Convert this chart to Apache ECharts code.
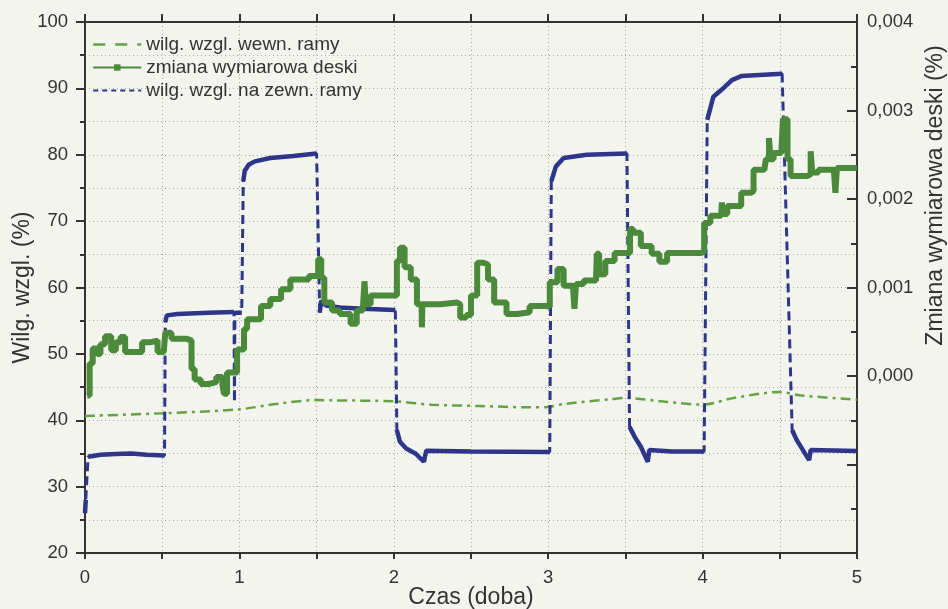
<!DOCTYPE html>
<html>
<head>
<meta charset="utf-8">
<script src="https://cdn.jsdelivr.net/npm/echarts@6/dist/echarts.min.js"></script>
<style>
  html, body { margin: 0; padding: 0; background: #f4f4ef; }
  #chart { width: 948px; height: 609px; }
</style>
</head>
<body>
<div id="chart"></div>
<script>
// czas (doba) i wilgotność wewnątrz ramy (%)
const tWewn = [0, 0.5, 1.0, 1.25, 1.5, 1.6, 2.0, 2.24, 2.55, 2.88, 3.0, 3.1, 3.4, 3.5, 3.77, 4.0, 4.2, 4.5, 4.63, 5.0]
const wewn = [40.65, 41.05, 41.65, 42.5, 43.05, 43.0, 42.85, 42.35, 42.15, 41.95, 42.0, 42.45, 43.15, 43.35, 42.75, 42.35, 43.35, 44.25, 43.75, 43.1]

// zmiana wymiarowa deski (%) - prawa oś
const tDeska = [0.015, 0.03, 0.05, 0.08, 0.10, 0.13, 0.17, 0.2, 0.23, 0.26, 0.33, 0.37, 0.42, 0.47, 0.51,
  0.52, 0.56, 0.66, 0.69, 0.71, 0.75, 0.8, 0.85, 0.89, 0.9, 0.92, 0.96, 0.985,
  1.03, 1.05, 1.1, 1.14, 1.2, 1.27, 1.33, 1.45, 1.51, 1.53, 1.55, 1.6, 1.65, 1.72, 1.76, 1.80, 1.81, 1.82, 1.85,
  2.0, 2.02, 2.04, 2.07, 2.11, 2.15, 2.18, 2.182, 2.185, 2.3, 2.41, 2.43, 2.47, 2.5, 2.54, 2.58, 2.61, 2.65,
  2.73, 2.8, 2.88, 2.99, 3.01, 3.06, 3.1, 3.16, 3.17, 3.18, 3.23, 3.31, 3.315, 3.33, 3.37, 3.43, 3.5,
  3.53, 3.55, 3.6, 3.67, 3.72, 3.77, 3.99, 4.01, 4.05, 4.12, 4.125, 4.13, 4.16, 4.23, 4.25, 4.31, 4.33, 4.4,
  4.41, 4.43, 4.44, 4.46, 4.51, 4.52, 4.55, 4.57, 4.68, 4.70, 4.71, 4.75, 4.85, 4.86, 4.87, 4.91, 5.0]
const deska = [-0.00022, 0.00014, 0.00031, 0.00025, 0.00036, 0.00045, 0.00029, 0.00038, 0.00044, 0.00027, 0.00027, 0.00038, 0.0004, 0.00027, 0.00029,
  0.00049, 0.00042, 0.0004, 0.00008, -0.00004, -0.00009, -0.00007, -0.00001, -0.0001, -0.0002, 0.00004, 0.00004, 0.0003,
  0.00053, 0.00064, 0.00064, 0.00079, 0.00087, 0.00098, 0.00109, 0.00113, 0.00132, 0.00111, 0.00083, 0.00074, 0.0007, 0.00059, 0.00074, 0.00077, 0.00107, 0.00081, 0.00091,
  0.00091, 0.0013, 0.00145, 0.00123, 0.00109, 0.00081, 0.00081, 0.00055, 0.00081, 0.00083, 0.00081, 0.00066, 0.00069, 0.00091, 0.00128, 0.00126, 0.00109, 0.00083,
  0.0007, 0.00072, 0.00079, 0.00078, 0.00106, 0.00121, 0.00102, 0.00102, 0.00076, 0.00104, 0.00108, 0.00111, 0.00138, 0.00115, 0.0013, 0.00139, 0.00139,
  0.00166, 0.00162, 0.00147, 0.00138, 0.00129, 0.00139, 0.0014, 0.00173, 0.00181, 0.00181, 0.00196, 0.00183, 0.00192, 0.00192, 0.00207, 0.00209, 0.00233, 0.00233,
  0.00245, 0.00269, 0.00245, 0.00252, 0.00254, 0.0029, 0.00245, 0.00226, 0.00228, 0.00254, 0.0023, 0.00233, 0.00233, 0.00207, 0.00235, 0.00235, 0.00235]

// wilgotność na zewnątrz ramy (%)
const tZewn = [0, 0.005, 0.02, 0.1, 0.2, 0.3, 0.4, 0.515, 0.52, 0.53, 0.6, 0.8, 0.965, 0.968, 0.971, 1.015,
  1.025, 1.035, 1.06, 1.1, 1.2, 1.35, 1.5, 1.52, 1.53, 1.56, 1.65, 1.8, 2.01,
  2.02, 2.04, 2.08, 2.14, 2.195, 2.21, 2.5, 3.01, 3.02, 3.05, 3.1, 3.25, 3.51,
  3.527, 3.56, 3.6, 3.645, 3.655, 3.8, 4.01, 4.03, 4.07, 4.145, 4.19, 4.25, 4.515,
  4.58, 4.61, 4.69, 4.70, 5.0]
const zewn = [26, 28, 34.5, 34.8, 34.9, 35.0, 34.8, 34.7, 54.8, 55.8, 56.0, 56.2, 56.3, 42.7, 56.2, 56.2,
  76, 77.6, 78.5, 79.0, 79.5, 79.8, 80.2, 56.2, 58, 57.3, 57.0, 56.8, 56.6,
  38.5, 36.75, 35.75, 35, 33.75, 35.4, 35.3, 35.2, 76, 78.25, 79.5, 80, 80.2,
  39, 37.5, 36, 33.75, 35.5, 35.3, 35.3, 85.25, 88.75, 90.25, 91.25, 91.85, 92.2,
  38.5, 37, 34, 35.5, 35.35]

const xTicks = [0, 1, 2, 3, 4, 5]

const names = ['wilg. wzgl. wewn. ramy', 'zmiana wymiarowa deski', 'wilg. wzgl. na zewn. ramy']

const pair = (t, v) => t.map((x, i) => [x, v[i]])

// ciągły fragment niebieskiej linii (bez skoków)
const zewnPlateau = []
tZewn.forEach((t, i) => {
  if (i > 0 && Math.abs(zewn[i] - zewn[i - 1]) > 4) zewnPlateau.push([t, null])
  zewnPlateau.push([t, zewn[i]])
})

const font = 'Liberation Sans, Arial, sans-serif'
const grid = '#a8a8a8'
const ink = '#333'
const cWewn = '#64a243'
const cDeska = '#4b8a3a'
const cZewn = '#2d3688'

const chart = echarts.init(document.getElementById('chart'))

const option = {
  backgroundColor: '#f4f4ef',
  animation: false,
  textStyle: { fontFamily: font, color: ink },
  grid: { left: 85, right: 91, top: 22, bottom: 56, containLabel: false, outerBoundsMode: 'none' },
  legend: {
    data: [
      { name: names[0], itemStyle: { opacity: 0 }, lineStyle: { type: [12, 10], width: 2.5 } },
      { name: names[1] },
      { name: names[2], itemStyle: { opacity: 0 }, lineStyle: { type: [5, 4], width: 2 } }
    ],
    orient: 'vertical',
    left: 87,
    top: 30,
    itemWidth: 48,
    itemHeight: 8,
    itemGap: 4,
    textStyle: { fontSize: 19, color: ink, fontFamily: font }
  },
  xAxis: [{
    type: 'value',
    min: 0,
    max: 5,
    interval: 1,
    name: 'Czas (doba)',
    nameLocation: 'middle',
    nameGap: 33,
    nameMoveOverlap: false,
    nameTextStyle: { fontSize: 23, color: ink },
    axisLine: { onZero: false, lineStyle: { color: ink, width: 2 } },
    axisTick: { length: 6, lineStyle: { color: ink, width: 2 } },
    minorTick: { show: true, splitNumber: 2, length: 6, lineStyle: { color: ink, width: 2 } },
    axisLabel: { fontSize: 18.5, color: ink, margin: 15, formatter: v => xTicks.includes(v) ? String(v) : '' },
    splitLine: { show: true, lineStyle: { color: grid, type: [1, 3] } },
    minorSplitLine: { show: true, lineStyle: { color: grid, type: [1, 3] } }
  }, {
    type: 'value',
    position: 'top',
    min: 0,
    max: 5,
    interval: 1,
    axisLine: { onZero: false, lineStyle: { color: ink, width: 2 } },
    axisTick: { length: 8, lineStyle: { color: ink, width: 2 } },
    minorTick: { show: true, splitNumber: 2, length: 8, lineStyle: { color: ink, width: 2 } },
    axisLabel: { show: false },
    splitLine: { show: false }
  }],
  yAxis: [{
    type: 'value',
    min: 20,
    max: 100,
    interval: 10,
    name: 'Wilg. wzgl. (%)',
    nameLocation: 'middle',
    nameGap: 51,
    nameMoveOverlap: false,
    nameTextStyle: { fontSize: 23, color: ink },
    axisLine: { onZero: false, lineStyle: { color: ink, width: 2 } },
    axisTick: { length: 9, lineStyle: { color: ink, width: 2 } },
    minorTick: { show: true, splitNumber: 2, length: 5, lineStyle: { color: ink, width: 2 } },
    axisLabel: { fontSize: 18.5, color: ink, margin: 17 },
    splitLine: { show: true, lineStyle: { color: grid, type: [1, 3] } },
    minorSplitLine: { show: true, lineStyle: { color: grid, type: [1, 3] } }
  }, {
    type: 'value',
    position: 'right',
    min: -0.002,
    max: 0.004,
    interval: 0.001,
    name: 'Zmiana wymiarowa deski (%)',
    nameLocation: 'middle',
    nameGap: 67,
    nameMoveOverlap: false,
    nameRotate: 90,
    nameTextStyle: { fontSize: 23, color: ink, padding: [0, 0, 0, 184] },
    axisLine: { onZero: false, lineStyle: { color: ink, width: 2 } },
    axisTick: { inside: true, length: 10, lineStyle: { color: ink, width: 2 } },
    minorTick: { show: true, splitNumber: 2, length: 6, lineStyle: { color: ink, width: 2 } },
    axisLabel: {
      fontSize: 18.5, color: ink, margin: 10,
      formatter: v => v >= -1e-9 ? Math.abs(v).toFixed(3).replace('.', ',') : ''
    },
    splitLine: { show: false }
  }],
  series: [{
    name: names[0],
    type: 'line',
    data: pair(tWewn, wewn),
    smooth: 0.3,
    symbol: 'none',
    lineStyle: { color: cWewn, width: 2.5, type: [10, 5, 3, 5] },
    itemStyle: { color: cWewn },
    z: 2
  }, {
    name: names[2],
    type: 'line',
    data: pair(tZewn, zewn),
    symbol: 'none',
    lineStyle: { color: cZewn, width: 3, type: [9, 5] },
    itemStyle: { color: cZewn },
    z: 3
  }, {
    name: 'zewn-ciagla',
    type: 'line',
    data: zewnPlateau,
    symbol: 'none',
    connectNulls: false,
    lineStyle: { color: cZewn, width: 4.5 },
    z: 3
  }, {
    name: names[1],
    type: 'line',
    yAxisIndex: 1,
    data: pair(tDeska, deska),
    step: 'end',
    symbol: 'rect',
    symbolSize: 7,
    showSymbol: false,
    lineStyle: { color: cDeska, width: 6 },
    itemStyle: { color: cDeska },
    z: 4
  }]
}

chart.setOption(option)
</script>
</body>
</html>
